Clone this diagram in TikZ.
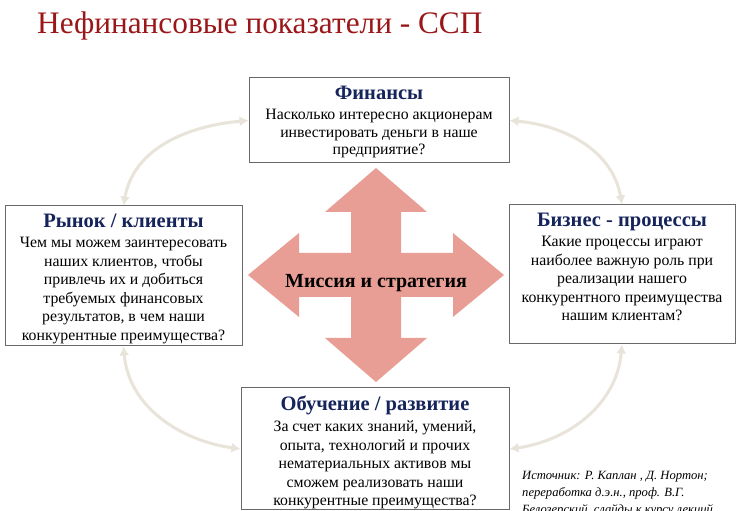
\documentclass[tikz,border=0pt]{standalone}
\usepackage{fontspec}
\setmainfont{Liberation Serif}
\usetikzlibrary{positioning}
\usetikzlibrary{arrows.meta}

\definecolor{titlered}{RGB}{155,22,24}
\definecolor{headblue}{RGB}{22,36,92}
\definecolor{crossred}{RGB}{232,158,148}
\definecolor{loopgray}{RGB}{232,228,218}
\definecolor{framegray}{RGB}{105,105,105}

\newcommand{\panelhead}[1]{{\fontsize{20.5}{21}\selectfont\bfseries\color{headblue}#1}}

\tikzset{
    panel/.style={draw=framegray, line width=1pt, inner sep=0pt},
    paneltext/.style={align=center, inner sep=0pt, font=\fontsize{15.8}{18.5}\selectfont},
    cyclearrow/.style={draw=loopgray, line width=3pt,
        {Latex[length=9pt,width=10pt]}-{Latex[length=9pt,width=10pt]}}
}

\begin{document}
\begin{tikzpicture}[x=1pt, y=1pt]
    \path[use as bounding box, fill=white] (0,0) rectangle (737,511);

    \node(title) [anchor=base west, inner sep=0pt, font=\fontsize{31.3}{32}\selectfont, text=titlered] at (37,477) {Нефинансовые показатели - ССП};

    % cross in the middle
    \fill[crossred, shift={(376,236)}] (0,107) -- (51,63) -- (25,63) -- (25,22) -- (77,22) -- (77,42) -- (128,0)
        -- (77,-42) -- (77,-22) -- (25,-22) -- (25,-63) -- (51,-63) -- (0,-107)
        -- (-51,-63) -- (-25,-63) -- (-25,-22) -- (-77,-22) -- (-77,-42) -- (-128,0)
        -- (-77,42) -- (-77,22) -- (-25,22) -- (-25,63) -- (-51,63) -- cycle;
    \node(mission) [font=\fontsize{20}{22}\selectfont\bfseries] at (376,228) {Миссия и стратегия};

    % panels
    \node(fin) [panel, minimum width=260pt, minimum height=85pt] at (379,390.5) {};
    \node(rin) [panel, minimum width=237pt, minimum height=140pt] at (123.5,235) {};
    \node(biz) [panel, minimum width=226pt, minimum height=139pt] at (622,236.5) {};
    \node(obu) [panel, minimum width=268pt, minimum height=122pt] at (375,62) {};

    \node(fintext) [paneltext, below=8pt of fin.north] {\panelhead{Финансы}\\[2pt]
        Насколько интересно акционерам\\[-1pt] инвестировать деньги в наше\\[-1pt] предприятие?};
    \node(rintext) [paneltext, below=8pt of rin.north] {\panelhead{Рынок / клиенты}\\[2pt]
        Чем мы можем заинтересовать\\ наших клиентов, чтобы\\ привлечь их и добиться\\
        требуемых финансовых\\ результатов, в чем наши\\ конкурентные преимущества?};
    \node(biztext) [paneltext, below=8pt of biz.north] {\panelhead{Бизнес - процессы}\\[2pt]
        Какие процессы играют\\ наиболее важную роль при\\ реализации нашего\\
        конкурентного преимущества\\ нашим клиентам?};
    \node(obutext) [paneltext, below=8pt of obu.north] {\panelhead{Обучение / развитие}\\[3pt]
        За счет каких знаний, умений,\\ опыта, технологий и прочих\\
        нематериальных активов мы\\ сможем реализовать наши\\ конкурентные преимущества?};

    % arrows round the cross
    \draw[cyclearrow] (rin.north) to[out=80, in=185] (fin.west);
    \draw[cyclearrow] (fin.east) to[out=-5, in=100] (biz.north);
    \draw[cyclearrow] (rin.south) to[out=-85, in=172] (obu.west);
    \draw[cyclearrow] (biz.south) to[out=-95, in=8] (obu.east);

    \node(source) [anchor=north west, align=left, inner sep=0pt, font=\fontsize{12.6}{17}\selectfont\itshape] at (522,40)
        {Источник: Р. Каплан , Д. Нортон;\\ переработка д.э.н., проф. В.Г.\\ Белозерский, слайды к курсу лекций};
\end{tikzpicture}
\end{document}
